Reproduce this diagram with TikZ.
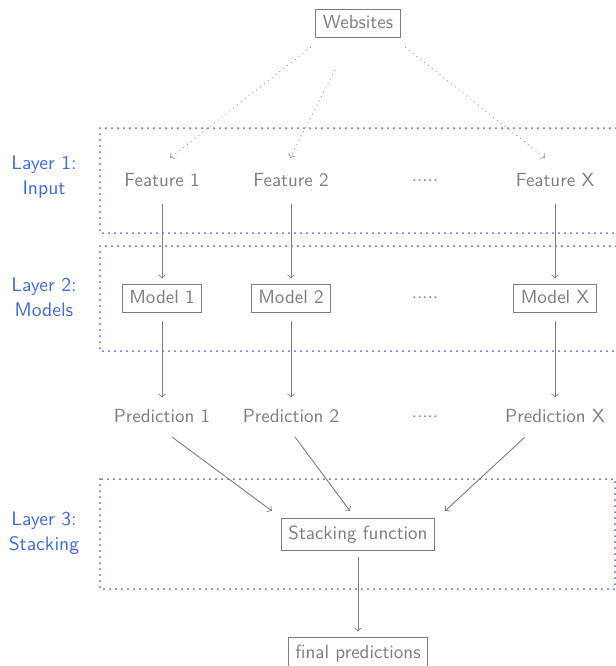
\documentclass[tikz,border=0pt]{standalone}
\usetikzlibrary{calc}
\definecolor{txtgray}{RGB}{125,125,125}
\definecolor{layerblue}{RGB}{65,105,225}
\begin{document}
\begin{tikzpicture}[x=0.5pt,y=-0.5pt,
  every node/.style={font=\fontsize{9.5}{11}\selectfont\sffamily, text=txtgray},
  plain/.style={inner sep=2pt, text height=7pt, text depth=2pt},
  boxed/.style={draw=txtgray, line width=0.5pt, inner xsep=3.5pt, inner ysep=2.5pt, text height=7pt, text depth=2pt},
  layerlabel/.style={text=layerblue, align=center, font=\fontsize{9.8}{12.5}\selectfont\sffamily},
  layerbox/.style={draw=layerblue, line width=1pt, dash pattern=on 0pt off 3pt, line cap=round},
  conn/.style={draw=txtgray, line width=0.45pt, ->},
  dotconn/.style={draw=txtgray!80, line width=0.45pt, dotted, ->},
]
\useasboundingbox (0,0) rectangle (616,666);

% layer boxes
\draw[layerbox] (640,128) -- (100,128) -- (100,233) -- (640,233);
\draw[layerbox] (640,246) -- (100,246) -- (100,351) -- (640,351);
\draw[layerbox] (100,479) rectangle (615,589);

% layer labels
\node[layerlabel] (l1) at (44,177) {Layer 1:\\Input};
\node[layerlabel] (l2) at (44,297) {Layer 2:\\Models};
\node[layerlabel] (l3) at (44,533) {Layer 3:\\Stacking};

% nodes
\node[boxed] (web) at (358,23) {Websites};

\node[plain] (f1) at (162,181) {Feature 1};
\node[plain] (f2) at (291,181) {Feature 2};
\node[plain] (fd) at (425,181) {\raisebox{0.55ex}{.....}};
\node[plain] (fx) at (555,181) {Feature X};

\node[boxed] (m1) at (162,298) {Model 1};
\node[boxed] (m2) at (291,298) {Model 2};
\node[plain] (md) at (425,298) {\raisebox{0.55ex}{.....}};
\node[boxed] (mx) at (555,298) {Model X};

\node[plain] (p1) at (162,417) {Prediction 1};
\node[plain] (p2) at (291,417) {Prediction 2};
\node[plain] (pd) at (425,417) {\raisebox{0.55ex}{.....}};
\node[plain] (px) at (555,417) {Prediction X};

\node[boxed, inner ysep=3.5pt] (st) at (358,534) {Stacking function};
\node[boxed, inner ysep=3.5pt] (fin) at (358,653) {final predictions};

% dotted arrows from websites
\coordinate (w1) at (311,47);
\coordinate (w2) at (335,70);
\coordinate (w3) at (405,47);
\coordinate (f1in) at (170,158);
\coordinate (f2in) at (290,158);
\coordinate (fxin) at (545,158);
\draw[dotconn] (w1) -- (f1in);
\draw[dotconn] (w2) -- (f2in);
\draw[dotconn] (w3) -- (fxin);

% features to models
\draw[conn] ($(f1.south)+(0,10)$) -- ($(m1.north)+(0,-5)$);
\draw[conn] ($(f2.south)+(0,10)$) -- ($(m2.north)+(0,-5)$);
\draw[conn] ($(fx.south)+(0,10)$) -- ($(mx.north)+(0,-5)$);

% models to predictions
\draw[conn] ($(m1.south)+(0,8)$) -- ($(p1.north)+(0,-6)$);
\draw[conn] ($(m2.south)+(0,8)$) -- ($(p2.north)+(0,-6)$);
\draw[conn] ($(mx.south)+(0,8)$) -- ($(px.north)+(0,-6)$);

% predictions to stacking
\coordinate (p1o) at (172,437);
\coordinate (p2o) at (295,437);
\coordinate (pxo) at (525,437);
\coordinate (s1) at (272,511);
\coordinate (s2) at (350,511);
\coordinate (s3) at (445,511);
\draw[conn] (p1o) -- (s1);
\draw[conn] (p2o) -- (s2);
\draw[conn] (pxo) -- (s3);

% stacking to final
\draw[conn] ($(st.south)+(0,6)$) -- ($(fin.north)+(0,-5)$);
\end{tikzpicture}
\end{document}
